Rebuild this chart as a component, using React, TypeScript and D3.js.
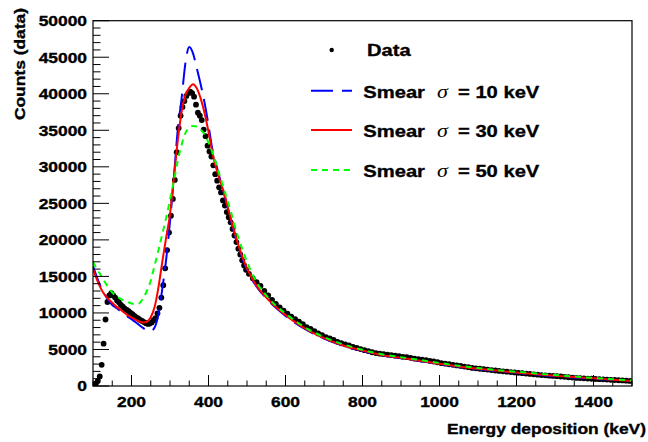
import React from 'react';
import * as d3 from 'd3';

// Data: bin centres (5 keV bins up to 500 keV, 10 keV bins above)
const dataEnergy: number[] = [...d3.range(102.5, 500, 5), ...d3.range(505, 1500, 10)];
const dataCounts: number[] = [
  150, 350, 700, 1300, 2900, 5800, 9100, 11500, 12400, 12700,
  12400, 12100, 11700, 11450, 11100, 10850, 10600, 10400, 10250, 10000,
  9850, 9600, 9400, 9250, 9050, 8900, 8750, 8600, 8500, 8550,
  8700, 9000, 9300, 9950, 10700, 12100, 13800, 16100, 18600, 21000,
  23300, 25600, 28200, 32000, 35300, 37000, 38200, 39000, 39700, 40100,
  40300, 40100, 39600, 38500, 37400, 37000, 36400, 35100, 34200, 32900,
  32100, 31400, 30200, 29000, 28100, 27200, 26500, 25400, 24700, 23800,
  23100, 22400, 21500, 20600, 19700, 18800, 18000, 17200, 16500, 15900,
  15350, 14750, 14200, 13700, 13000, 12400, 11800, 11250, 10750, 10300,
  9900, 9500, 9150, 8800, 8450, 8050, 7800, 7500, 7200, 6950,
  6700, 6500, 6300, 6050, 5850, 5700, 5550, 5350, 5200, 5050,
  4900, 4780, 4620, 4500, 4420, 4350, 4300, 4220, 4150, 4080,
  4000, 3940, 3850, 3760, 3680, 3600, 3540, 3450, 3350, 3250,
  3130, 3050, 2980, 2900, 2820, 2750, 2660, 2570, 2470, 2420,
  2360, 2300, 2250, 2180, 2120, 2060, 2010, 1960, 1910, 1860,
  1800, 1760, 1700, 1650, 1600, 1550, 1500, 1460, 1410, 1380,
  1340, 1300, 1260, 1200, 1150, 1110, 1080, 1050, 1010, 990,
  960, 930, 910, 880, 850, 820, 790, 760, 730, 700,
];

const curveEnergy: number[] = [
  100, 110, 120, 130, 140, 150, 160, 170, 180, 190,
  200, 210, 220, 230, 240, 250, 260, 270, 280, 290,
  300, 310, 320, 330, 340, 350, 360, 370, 380, 390,
  400, 410, 420, 430, 440, 450, 460, 470, 480, 490,
  500, 525, 550, 575, 600, 650, 700, 750, 800, 850,
  900, 950, 1000, 1100, 1200, 1300, 1400, 1500,
];
const smear10: number[] = [
  16400, 14900, 13600, 12600, 11700, 11100, 10700, 10300, 9900, 9500,
  9150, 8750, 8350, 7950, 7600, 7500, 8000, 9800, 13300, 17300,
  22500, 28500, 35000, 39300, 44200, 46400, 45500, 43400, 41200, 38700,
  35700, 32400, 30300, 28300, 26400, 24300, 22300, 20400, 18700, 17200,
  15900, 13600, 12000, 10700, 9600, 7800, 6500, 5500, 4800, 4200,
  3800, 3400, 3000, 2300, 1800, 1350, 1000, 650,
];
const smear30: number[] = [
  16000, 14600, 13400, 12500, 11900, 11400, 10900, 10500, 10100, 9700,
  9400, 9100, 8850, 8700, 8800, 9400, 10800, 13500, 17000, 20300,
  23500, 28500, 33500, 37500, 39800, 40800, 41300, 40700, 39300, 37300,
  34800, 32000, 29800, 28100, 26500, 24500, 22500, 20600, 18900, 17400,
  16100, 13700, 12100, 10800, 9700, 7900, 6550, 5550, 4850, 4250,
  3850, 3450, 3050, 2350, 1850, 1400, 1050, 700,
];
const smear50: number[] = [
  17000, 16000, 15200, 14300, 13500, 12800, 12300, 12000, 11700, 11500,
  11300, 11200, 11300, 12000, 13000, 14400, 16500, 18600, 20800, 23000,
  25500, 28000, 30800, 33000, 34600, 35400, 35600, 35500, 35100, 34400,
  33300, 32000, 30400, 28700, 27000, 25300, 23500, 21600, 19900, 18400,
  17000, 14200, 12400, 11000, 9900, 8050, 6700, 5700, 4950, 4350,
  3950, 3550, 3150, 2450, 1950, 1500, 1100, 750,
];

const xTicks: number[] = [200, 400, 600, 800, 1000, 1200, 1400];
const yTicks: number[] = [0, 5000, 10000, 15000, 20000, 25000, 30000, 35000, 40000, 45000, 50000];
const sigmaValues: string[] = ['10', '30', '50'];

const SX = 1.16;
const FONT = "'Liberation Sans', Arial, Helvetica, sans-serif";

function T(props: { x: number; y: number; anchor?: string; size?: number; rotate?: number; children: any; family?: string; italic?: boolean; weight?: string; stroke?: number }) {
  const { x, y, anchor = 'start', size = 15, rotate = 0, children, family = FONT, italic = false, weight = 'bold', stroke = 0.35 } = props;
  return (
    <text
      transform={`translate(${x},${y}) rotate(${rotate}) scale(${SX},1)`}
      textAnchor={anchor as any}
      fontSize={size}
      fontFamily={family}
      fontWeight={weight}
      fontStyle={italic ? 'italic' : 'normal'}
      fill="#000"
      stroke="#000"
      strokeWidth={stroke}
    >
      {children}
    </text>
  );
}

export default function App() {
  const W = 648, H = 442;
  const x = d3.scaleLinear().domain([100, 1500]).range([93, 632]);
  const y = d3.scaleLinear().domain([0, 50000]).range([386, 20.7]);

  const mkLine = (vals: number[]) =>
    d3.line<number>()
      .x((_, i) => x(curveEnergy[i]))
      .y((d) => y(d))
      .curve(d3.curveMonotoneX)(vals) || '';

  const xMinor = d3.range(100, 1501, 50).filter((v) => v % 200 !== 0);
  const yMinor = d3.range(0, 50001, 1000).filter((v) => v % 5000 !== 0);

  const curves = [
    { vals: smear10, color: '#0000ff', dash: '22,9' },
    { vals: smear30, color: '#ff0000', dash: 'none' },
    { vals: smear50, color: '#00ff00', dash: '6,5' },
  ];

  const legendRows = [90.7, 130, 170];

  return (
    <svg width={W} height={H} style={{ position: 'absolute', left: 0, top: 0, background: '#fff' }}>
      <rect x={0} y={0} width={W} height={H} fill="#fff" />
      <defs>
        <clipPath id="frame">
          <rect x={x(100)} y={y(50000)} width={x(1500) - x(100)} height={y(0) - y(50000)} />
        </clipPath>
      </defs>

      {/* data points and smeared curves */}
      <g clipPath="url(#frame)">
        {dataEnergy.map((e, i) => (
          <circle key={i} cx={x(e)} cy={y(dataCounts[i])} r={2.9} fill="#000" />
        ))}
        {curves.map((c, i) => (
          <path key={i} d={mkLine(c.vals)} fill="none" stroke={c.color} strokeWidth={2} strokeDasharray={c.dash} />
        ))}
      </g>

      {/* frame */}
      <rect x={x(100)} y={y(50000)} width={x(1500) - x(100)} height={y(0) - y(50000)} fill="none" stroke="#000" strokeWidth={1.2} />

      {/* x ticks */}
      {xTicks.map((t) => (
        <g key={'xt' + t}>
          <line x1={x(t)} x2={x(t)} y1={y(0)} y2={y(0) - 11} stroke="#000" strokeWidth={1} />
          <T x={x(t)} y={407} anchor="middle">{String(t)}</T>
        </g>
      ))}
      {xMinor.map((t) => (
        <line key={'xm' + t} x1={x(t)} x2={x(t)} y1={y(0)} y2={y(0) - 5.5} stroke="#000" strokeWidth={1} />
      ))}

      {/* y ticks */}
      {yTicks.map((t) => (
        <g key={'yt' + t}>
          <line x1={x(100)} x2={x(100) + 16} y1={y(t)} y2={y(t)} stroke="#000" strokeWidth={1} />
          <T x={87} y={y(t) + 5.3} anchor="end">{String(t)}</T>
        </g>
      ))}
      {yMinor.map((t) => (
        <line key={'ym' + t} x1={x(100)} x2={x(100) + 7.5} y1={y(t)} y2={y(t)} stroke="#000" strokeWidth={1} />
      ))}

      {/* axis titles */}
      <T x={646} y={434} anchor="end">Energy deposition (keV)</T>
      <T x={25} y={8} anchor="end" rotate={-90}>Counts (data)</T>

      {/* legend */}
      <circle cx={331.7} cy={50} r={2.2} fill="#000" />
      <T x={367} y={56} size={17.4}>Data</T>
      {curves.map((c, i) => (
        <g key={'lg' + i}>
          <line x1={311} x2={352} y1={legendRows[i]} y2={legendRows[i]} stroke={c.color} strokeWidth={2} strokeDasharray={c.dash} />
          <T x={363.3} y={legendRows[i] + 7.3} size={17.4}>Smear</T>
          <T x={437} y={legendRows[i] + 7.3} size={19} family="'Liberation Serif', 'Times New Roman', serif" italic weight="normal" stroke={0}>σ</T>
          <T x={458} y={legendRows[i] + 7.3} size={17.4}>{`= ${sigmaValues[i]} keV`}</T>
        </g>
      ))}
    </svg>
  );
}
